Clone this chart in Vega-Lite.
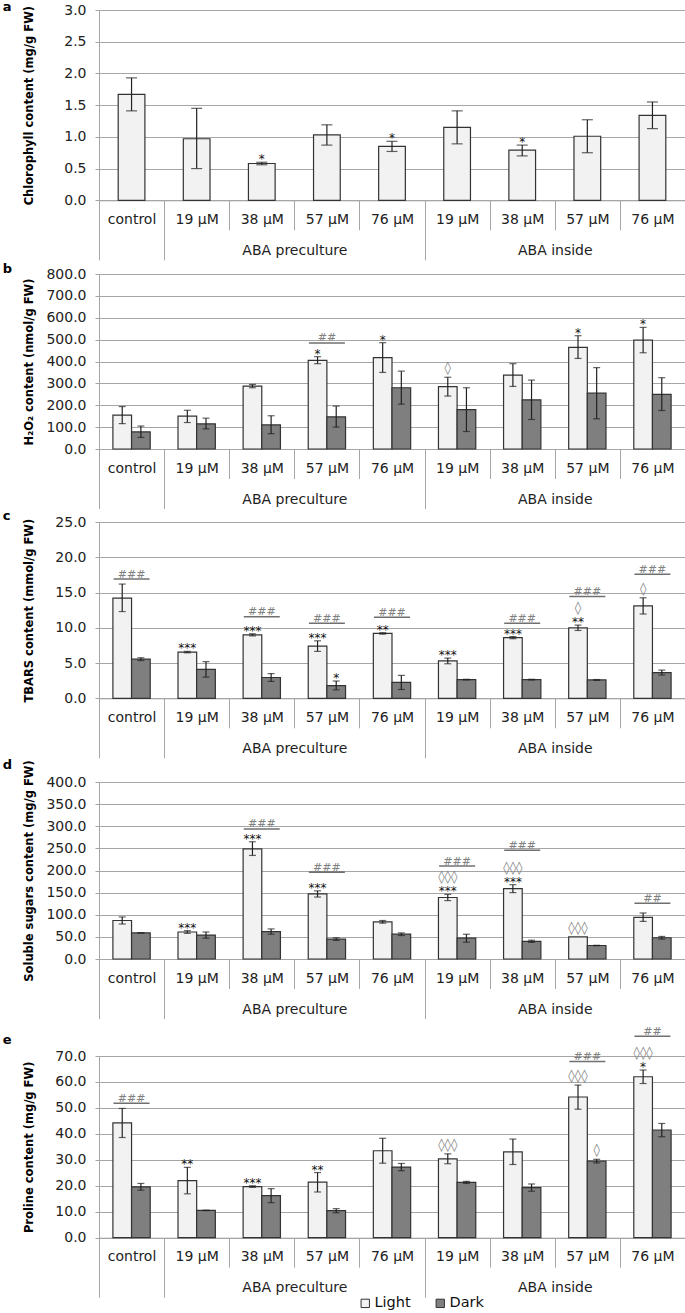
{
"$schema": "https://vega.github.io/schema/vega-lite/v6.json",
"padding": {"left": 2, "top": 1, "right": 0, "bottom": 0},
"config": {
  "view": {"stroke": null},
  "font": "DejaVu Sans",
  "axis": {"labelFont": "DejaVu Sans", "labelColor": "#222", "tickColor": "#a6a6a6", "domainColor": "#a6a6a6", "gridColor": "#a6a6a6"}
},
"datasets": {
  "rows": [
    {"p":"a","k":"letter","label":"a"},
    {"p":"b","k":"letter","label":"b"},
    {"p":"c","k":"letter","label":"c"},
    {"p":"d","k":"letter","label":"d"},
    {"p":"e","k":"letter","label":"e"},

    {"p":"a","k":"bar","cat":"c","s":"Light","v":1.67,"lo":1.41,"hi":1.93,"star":"","dia":""},
    {"p":"a","k":"bar","cat":"p19","s":"Light","v":0.97,"lo":0.50,"hi":1.45,"star":"","dia":""},
    {"p":"a","k":"bar","cat":"p38","s":"Light","v":0.58,"lo":0.56,"hi":0.60,"star":"*","dia":""},
    {"p":"a","k":"bar","cat":"p57","s":"Light","v":1.03,"lo":0.87,"hi":1.19,"star":"","dia":""},
    {"p":"a","k":"bar","cat":"p76","s":"Light","v":0.85,"lo":0.77,"hi":0.93,"star":"*","dia":""},
    {"p":"a","k":"bar","cat":"i19","s":"Light","v":1.15,"lo":0.89,"hi":1.41,"star":"","dia":""},
    {"p":"a","k":"bar","cat":"i38","s":"Light","v":0.79,"lo":0.70,"hi":0.87,"star":"*","dia":""},
    {"p":"a","k":"bar","cat":"i57","s":"Light","v":1.01,"lo":0.75,"hi":1.27,"star":"","dia":""},
    {"p":"a","k":"bar","cat":"i76","s":"Light","v":1.34,"lo":1.13,"hi":1.55,"star":"","dia":""},

    {"p":"b","k":"bar","cat":"c","s":"Light","v":155,"lo":116,"hi":194,"star":"","dia":""},
    {"p":"b","k":"bar","cat":"c","s":"Dark","v":78,"lo":53,"hi":105,"star":"","dia":""},
    {"p":"b","k":"bar","cat":"p19","s":"Light","v":150,"lo":121,"hi":177,"star":"","dia":""},
    {"p":"b","k":"bar","cat":"p19","s":"Dark","v":115,"lo":92,"hi":141,"star":"","dia":""},
    {"p":"b","k":"bar","cat":"p38","s":"Light","v":287,"lo":280,"hi":295,"star":"","dia":""},
    {"p":"b","k":"bar","cat":"p38","s":"Dark","v":110,"lo":70,"hi":152,"star":"","dia":""},
    {"p":"b","k":"bar","cat":"p57","s":"Light","v":405,"lo":390,"hi":422,"star":"*","dia":""},
    {"p":"b","k":"bar","cat":"p57","s":"Dark","v":147,"lo":100,"hi":196,"star":"","dia":""},
    {"p":"b","k":"bar","cat":"p76","s":"Light","v":418,"lo":350,"hi":486,"star":"*","dia":""},
    {"p":"b","k":"bar","cat":"p76","s":"Dark","v":280,"lo":205,"hi":356,"star":"","dia":""},
    {"p":"b","k":"bar","cat":"i19","s":"Light","v":285,"lo":242,"hi":328,"star":"","dia":"◊"},
    {"p":"b","k":"bar","cat":"i19","s":"Dark","v":180,"lo":80,"hi":280,"star":"","dia":""},
    {"p":"b","k":"bar","cat":"i38","s":"Light","v":338,"lo":286,"hi":390,"star":"","dia":""},
    {"p":"b","k":"bar","cat":"i38","s":"Dark","v":225,"lo":135,"hi":315,"star":"","dia":""},
    {"p":"b","k":"bar","cat":"i57","s":"Light","v":465,"lo":414,"hi":518,"star":"*","dia":""},
    {"p":"b","k":"bar","cat":"i57","s":"Dark","v":255,"lo":138,"hi":372,"star":"","dia":""},
    {"p":"b","k":"bar","cat":"i76","s":"Light","v":498,"lo":440,"hi":556,"star":"*","dia":""},
    {"p":"b","k":"bar","cat":"i76","s":"Dark","v":250,"lo":176,"hi":326,"star":"","dia":""},
    {"p":"b","k":"hash","cat":"p57","y":485,"label":"##"},

    {"p":"c","k":"bar","cat":"c","s":"Light","v":14.2,"lo":12.3,"hi":16.2,"star":"","dia":""},
    {"p":"c","k":"bar","cat":"c","s":"Dark","v":5.55,"lo":5.35,"hi":5.75,"star":"","dia":""},
    {"p":"c","k":"bar","cat":"p19","s":"Light","v":6.55,"lo":6.45,"hi":6.65,"star":"***","dia":""},
    {"p":"c","k":"bar","cat":"p19","s":"Dark","v":4.1,"lo":3.0,"hi":5.2,"star":"","dia":""},
    {"p":"c","k":"bar","cat":"p38","s":"Light","v":9.0,"lo":8.85,"hi":9.15,"star":"***","dia":""},
    {"p":"c","k":"bar","cat":"p38","s":"Dark","v":2.95,"lo":2.4,"hi":3.5,"star":"","dia":""},
    {"p":"c","k":"bar","cat":"p57","s":"Light","v":7.4,"lo":6.65,"hi":8.15,"star":"***","dia":""},
    {"p":"c","k":"bar","cat":"p57","s":"Dark","v":1.8,"lo":1.2,"hi":2.45,"star":"*","dia":""},
    {"p":"c","k":"bar","cat":"p76","s":"Light","v":9.2,"lo":9.1,"hi":9.3,"star":"**","dia":""},
    {"p":"c","k":"bar","cat":"p76","s":"Dark","v":2.25,"lo":1.25,"hi":3.25,"star":"","dia":""},
    {"p":"c","k":"bar","cat":"i19","s":"Light","v":5.3,"lo":4.9,"hi":5.7,"star":"***","dia":""},
    {"p":"c","k":"bar","cat":"i19","s":"Dark","v":2.65,"lo":2.6,"hi":2.7,"star":"","dia":""},
    {"p":"c","k":"bar","cat":"i38","s":"Light","v":8.6,"lo":8.45,"hi":8.75,"star":"***","dia":""},
    {"p":"c","k":"bar","cat":"i38","s":"Dark","v":2.65,"lo":2.6,"hi":2.7,"star":"","dia":""},
    {"p":"c","k":"bar","cat":"i57","s":"Light","v":10.0,"lo":9.62,"hi":10.38,"star":"**","dia":"◊"},
    {"p":"c","k":"bar","cat":"i57","s":"Dark","v":2.6,"lo":2.54,"hi":2.66,"star":"","dia":""},
    {"p":"c","k":"bar","cat":"i76","s":"Light","v":13.1,"lo":11.95,"hi":14.25,"star":"","dia":"◊"},
    {"p":"c","k":"bar","cat":"i76","s":"Dark","v":3.65,"lo":3.3,"hi":4.0,"star":"","dia":""},
    {"p":"c","k":"hash","cat":"c","y":16.9,"label":"###"},
    {"p":"c","k":"hash","cat":"p38","y":11.55,"label":"###"},
    {"p":"c","k":"hash","cat":"p57","y":10.65,"label":"###"},
    {"p":"c","k":"hash","cat":"p76","y":11.5,"label":"###"},
    {"p":"c","k":"hash","cat":"i38","y":10.65,"label":"###"},
    {"p":"c","k":"hash","cat":"i57","y":14.45,"label":"###"},
    {"p":"c","k":"hash","cat":"i76","y":17.6,"label":"###"},

    {"p":"d","k":"bar","cat":"c","s":"Light","v":87,"lo":79,"hi":95,"star":"","dia":""},
    {"p":"d","k":"bar","cat":"c","s":"Dark","v":59,"lo":58.5,"hi":59.5,"star":"","dia":""},
    {"p":"d","k":"bar","cat":"p19","s":"Light","v":61,"lo":58,"hi":64,"star":"***","dia":""},
    {"p":"d","k":"bar","cat":"p19","s":"Dark","v":54,"lo":47,"hi":61,"star":"","dia":""},
    {"p":"d","k":"bar","cat":"p38","s":"Light","v":249,"lo":234,"hi":265,"star":"***","dia":""},
    {"p":"d","k":"bar","cat":"p38","s":"Dark","v":62,"lo":56,"hi":68,"star":"","dia":""},
    {"p":"d","k":"bar","cat":"p57","s":"Light","v":147,"lo":140,"hi":154,"star":"***","dia":""},
    {"p":"d","k":"bar","cat":"p57","s":"Dark","v":45,"lo":42,"hi":48,"star":"","dia":""},
    {"p":"d","k":"bar","cat":"p76","s":"Light","v":84,"lo":81,"hi":87,"star":"","dia":""},
    {"p":"d","k":"bar","cat":"p76","s":"Dark","v":56,"lo":53,"hi":59,"star":"","dia":""},
    {"p":"d","k":"bar","cat":"i19","s":"Light","v":139,"lo":132,"hi":146,"star":"***","dia":"◊◊◊"},
    {"p":"d","k":"bar","cat":"i19","s":"Dark","v":47,"lo":38,"hi":56,"star":"","dia":""},
    {"p":"d","k":"bar","cat":"i38","s":"Light","v":159,"lo":150,"hi":168,"star":"***","dia":"◊◊◊"},
    {"p":"d","k":"bar","cat":"i38","s":"Dark","v":40,"lo":37.5,"hi":42.5,"star":"","dia":""},
    {"p":"d","k":"bar","cat":"i57","s":"Light","v":50,"lo":50,"hi":50,"star":"","dia":"◊◊◊"},
    {"p":"d","k":"bar","cat":"i57","s":"Dark","v":30.5,"lo":30,"hi":31,"star":"","dia":""},
    {"p":"d","k":"bar","cat":"i76","s":"Light","v":94,"lo":85,"hi":104,"star":"","dia":""},
    {"p":"d","k":"bar","cat":"i76","s":"Dark","v":48,"lo":45,"hi":51,"star":"","dia":""},
    {"p":"d","k":"hash","cat":"p38","y":294,"label":"###"},
    {"p":"d","k":"hash","cat":"p57","y":196,"label":"###"},
    {"p":"d","k":"hash","cat":"i19","y":210,"label":"###"},
    {"p":"d","k":"hash","cat":"i38","y":246,"label":"###"},
    {"p":"d","k":"hash","cat":"i76","y":126,"label":"##"},

    {"p":"e","k":"bar","cat":"c","s":"Light","v":44.2,"lo":38.6,"hi":49.8,"star":"","dia":""},
    {"p":"e","k":"bar","cat":"c","s":"Dark","v":19.6,"lo":18.3,"hi":20.9,"star":"","dia":""},
    {"p":"e","k":"bar","cat":"p19","s":"Light","v":22.0,"lo":16.9,"hi":27.1,"star":"**","dia":""},
    {"p":"e","k":"bar","cat":"p19","s":"Dark","v":10.5,"lo":10.4,"hi":10.6,"star":"","dia":""},
    {"p":"e","k":"bar","cat":"p38","s":"Light","v":19.7,"lo":19.4,"hi":20.0,"star":"***","dia":""},
    {"p":"e","k":"bar","cat":"p38","s":"Dark","v":16.2,"lo":13.5,"hi":18.9,"star":"","dia":""},
    {"p":"e","k":"bar","cat":"p57","s":"Light","v":21.4,"lo":17.6,"hi":25.1,"star":"**","dia":""},
    {"p":"e","k":"bar","cat":"p57","s":"Dark","v":10.4,"lo":9.6,"hi":11.2,"star":"","dia":""},
    {"p":"e","k":"bar","cat":"p76","s":"Light","v":33.5,"lo":28.7,"hi":38.3,"star":"","dia":""},
    {"p":"e","k":"bar","cat":"p76","s":"Dark","v":27.2,"lo":25.8,"hi":28.6,"star":"","dia":""},
    {"p":"e","k":"bar","cat":"i19","s":"Light","v":30.4,"lo":28.5,"hi":32.3,"star":"","dia":"◊◊◊"},
    {"p":"e","k":"bar","cat":"i19","s":"Dark","v":21.3,"lo":20.9,"hi":21.7,"star":"","dia":""},
    {"p":"e","k":"bar","cat":"i38","s":"Light","v":33.1,"lo":28.2,"hi":38.0,"star":"","dia":""},
    {"p":"e","k":"bar","cat":"i38","s":"Dark","v":19.3,"lo":17.9,"hi":20.7,"star":"","dia":""},
    {"p":"e","k":"bar","cat":"i57","s":"Light","v":54.2,"lo":49.5,"hi":58.8,"star":"","dia":"◊◊◊"},
    {"p":"e","k":"bar","cat":"i57","s":"Dark","v":29.5,"lo":28.8,"hi":30.2,"star":"","dia":"◊"},
    {"p":"e","k":"bar","cat":"i76","s":"Light","v":62.0,"lo":59.4,"hi":64.6,"star":"*","dia":"◊◊◊"},
    {"p":"e","k":"bar","cat":"i76","s":"Dark","v":41.5,"lo":38.9,"hi":44.0,"star":"","dia":""},
    {"p":"e","k":"hash","cat":"c","y":51.8,"label":"###"},
    {"p":"e","k":"hash","cat":"i57","y":67.9,"label":"###"},
    {"p":"e","k":"hash","cat":"i76","y":77.6,"label":"##"}
  ]
},
"bounds": "flush",
"spacing": 0,
"resolve": {"scale": {"xOffset": "independent", "color": "independent"}, "legend": {"color": "independent"}},
"vconcat": [
{
 "width": 586, "height": 190.3,
 "data": {"name": "rows"},
 "transform": [{"filter": "datum.p == 'a'"}],
 "resolve": {"axis": {"x": "independent", "y": "independent"}},
 "layer": [
  {"transform": [{"filter": "datum.k == 'bar'"}],
   "mark": {"type": "bar", "stroke": "#333", "strokeWidth": 1.2},
   "encoding": {
     "x": {"field": "cat", "type": "nominal", "scale": {"domain": ["c","p19","p38","p57","p76","i19","i38","i57","i76"], "paddingInner": 0, "paddingOuter": 0},
           "axis": {"orient": "bottom", "title": null, "grid": false, "tickBand": "extent", "tickSize": 29.5, "labelAngle": 0, "labelFontSize": 14, "labelBaseline": "middle", "labelPadding": -10.3, "labelOverlap": false, "labelExpr": "!datum.value ? '' : datum.value == 'c' ? 'control' : substring(datum.value, 1) + ' µM'"}},
     "xOffset": {"field": "s", "type": "nominal", "scale": {"domain": ["Light"], "paddingInner": 0, "paddingOuter": 0.719}},
     "y": {"field": "v", "type": "quantitative", "scale": {"domain": [0, 3], "nice": false},
           "axis": {"orient": "left", "grid": true, "title": "Chlorophyll content (mg/g FW)", "values": [0,0.5,1,1.5,2,2.5,3], "format": ".1f", "labelOverlap": false, "labelFontSize": 14, "labelPadding": 9, "tickSize": 4, "titleFontSize": 11.5, "titleFontWeight": "bold", "titleColor": "#000", "titleX": -70, "titleBaseline": "middle"}},
     "color": {"field": "s", "type": "nominal", "scale": {"domain": ["Light","Dark"], "range": ["#f2f2f2","#7f7f7f"]}, "legend": null}
   }},
  {"transform": [{"filter": "datum.k == 'bar'"}],
   "mark": {"type": "rule", "color": "#222", "strokeWidth": 1.2},
   "encoding": {
     "x": {"field": "cat", "type": "nominal",
           "axis": {"orient": "bottom", "title": null, "grid": false, "domain": false, "tickBand": "extent", "tickSize": 59.5, "tickOpacity": {"condition": {"test": "!datum.value || indexof(['c','p76','i76'], datum.value) >= 0", "value": 1}, "value": 0}, "labelAngle": 0, "labelFontSize": 14, "labelBaseline": "middle", "labelPadding": -9.3, "labelOffset": 32.55, "labelOverlap": false, "labelExpr": "datum.value == 'p38' ? 'ABA preculture' : datum.value == 'i38' ? 'ABA inside' : ''"}},
     "xOffset": {"field": "s", "type": "nominal"},
     "y": {"field": "lo", "type": "quantitative", "axis": null},
     "y2": {"field": "hi"}
   }},
  {"transform": [{"filter": "datum.k == 'bar'"}],
   "mark": {"type": "tick", "orient": "horizontal", "size": 11, "thickness": 1.2, "color": "#222"},
   "encoding": {"x": {"field": "cat", "type": "nominal", "axis": null}, "xOffset": {"field": "s", "type": "nominal"}, "y": {"field": "lo", "type": "quantitative", "axis": null}}},
  {"transform": [{"filter": "datum.k == 'bar'"}],
   "mark": {"type": "tick", "orient": "horizontal", "size": 11, "thickness": 1.2, "color": "#222"},
   "encoding": {"x": {"field": "cat", "type": "nominal", "axis": null}, "xOffset": {"field": "s", "type": "nominal"}, "y": {"field": "hi", "type": "quantitative", "axis": null}}},
  {"transform": [{"filter": "datum.k == 'bar' && datum.star != ''"}],
   "mark": {"type": "text", "baseline": "middle", "dy": -3, "fontSize": 12, "fill": "#111"},
   "encoding": {"x": {"field": "cat", "type": "nominal", "axis": null}, "xOffset": {"field": "s", "type": "nominal"}, "y": {"field": "hi", "type": "quantitative", "axis": null}, "text": {"field": "star"}}},
  {"transform": [{"filter": "datum.k == 'letter'"}],
   "mark": {"type": "text", "align": "left", "baseline": "alphabetic", "dx": -128.85, "dy": 1.3, "fontSize": 13, "fontWeight": "bold", "fill": "#000"},
   "encoding": {"x": {"datum": "c", "type": "nominal", "axis": null}, "y": {"datum": 3, "type": "quantitative", "axis": null}, "text": {"field": "label"}}}
 ]
},
{"width": 586, "height": 72.7, "data": {"values": []}, "mark": "point"},
{
 "width": 586, "height": 175,
 "data": {"name": "rows"},
 "transform": [{"filter": "datum.p == 'b'"}],
 "resolve": {"axis": {"x": "independent", "y": "independent"}},
 "layer": [
  {"transform": [{"filter": "datum.k == 'bar'"}],
   "mark": {"type": "bar", "stroke": "#333", "strokeWidth": 1.2},
   "encoding": {
     "x": {"field": "cat", "type": "nominal", "scale": {"domain": ["c","p19","p38","p57","p76","i19","i38","i57","i76"], "paddingInner": 0, "paddingOuter": 0},
           "axis": {"orient": "bottom", "title": null, "grid": false, "tickBand": "extent", "tickSize": 29.5, "labelAngle": 0, "labelFontSize": 14, "labelBaseline": "middle", "labelPadding": -10.3, "labelOverlap": false, "labelExpr": "!datum.value ? '' : datum.value == 'c' ? 'control' : substring(datum.value, 1) + ' µM'"}},
     "xOffset": {"field": "s", "type": "nominal", "scale": {"domain": ["Light","Dark"], "paddingInner": 0, "paddingOuter": 0.745}},
     "y": {"field": "v", "type": "quantitative", "scale": {"domain": [0, 800], "nice": false},
           "axis": {"orient": "left", "grid": true, "title": "H₂O₂ content (nmol/g FW)", "values": [0,100,200,300,400,500,600,700,800], "format": ".1f", "labelOverlap": false, "labelFontSize": 14, "labelPadding": 9, "tickSize": 4, "titleFontSize": 11.5, "titleFontWeight": "bold", "titleColor": "#000", "titleX": -70, "titleBaseline": "middle"}},
     "color": {"field": "s", "type": "nominal", "scale": {"domain": ["Light","Dark"], "range": ["#f2f2f2","#7f7f7f"]}, "legend": null}
   }},
  {"transform": [{"filter": "datum.k == 'bar'"}],
   "mark": {"type": "rule", "color": "#222", "strokeWidth": 1.2},
   "encoding": {
     "x": {"field": "cat", "type": "nominal",
           "axis": {"orient": "bottom", "title": null, "grid": false, "domain": false, "tickBand": "extent", "tickSize": 59.5, "tickOpacity": {"condition": {"test": "!datum.value || indexof(['c','p76','i76'], datum.value) >= 0", "value": 1}, "value": 0}, "labelAngle": 0, "labelFontSize": 14, "labelBaseline": "middle", "labelPadding": -9.3, "labelOffset": 32.55, "labelOverlap": false, "labelExpr": "datum.value == 'p38' ? 'ABA preculture' : datum.value == 'i38' ? 'ABA inside' : ''"}},
     "xOffset": {"field": "s", "type": "nominal"},
     "y": {"field": "lo", "type": "quantitative", "axis": null},
     "y2": {"field": "hi"}
   }},
  {"transform": [{"filter": "datum.k == 'bar'"}],
   "mark": {"type": "tick", "orient": "horizontal", "size": 7, "thickness": 1.2, "color": "#222"},
   "encoding": {"x": {"field": "cat", "type": "nominal", "axis": null}, "xOffset": {"field": "s", "type": "nominal"}, "y": {"field": "lo", "type": "quantitative", "axis": null}}},
  {"transform": [{"filter": "datum.k == 'bar'"}],
   "mark": {"type": "tick", "orient": "horizontal", "size": 7, "thickness": 1.2, "color": "#222"},
   "encoding": {"x": {"field": "cat", "type": "nominal", "axis": null}, "xOffset": {"field": "s", "type": "nominal"}, "y": {"field": "hi", "type": "quantitative", "axis": null}}},
  {"transform": [{"filter": "datum.k == 'bar' && datum.star != ''"}],
   "mark": {"type": "text", "baseline": "middle", "dy": -3, "fontSize": 12, "fill": "#111"},
   "encoding": {"x": {"field": "cat", "type": "nominal", "axis": null}, "xOffset": {"field": "s", "type": "nominal"}, "y": {"field": "hi", "type": "quantitative", "axis": null}, "text": {"field": "star"}}},
  {"transform": [{"filter": "datum.k == 'bar' && datum.dia != '' && datum.star == ''"}],
   "mark": {"type": "text", "baseline": "middle", "dy": -9, "fontSize": 13, "fill": "#808080"},
   "encoding": {"x": {"field": "cat", "type": "nominal", "axis": null}, "xOffset": {"field": "s", "type": "nominal"}, "y": {"field": "hi", "type": "quantitative", "axis": null}, "text": {"field": "dia"}}},
  {"transform": [{"filter": "datum.k == 'hash'"}],
   "mark": {"type": "tick", "orient": "horizontal", "size": 36, "thickness": 1.5, "color": "#333"},
   "encoding": {"x": {"field": "cat", "type": "nominal", "axis": null}, "y": {"field": "y", "type": "quantitative", "axis": null}}},
  {"transform": [{"filter": "datum.k == 'hash'"}],
   "mark": {"type": "text", "baseline": "alphabetic", "dy": -1.5, "fontSize": 11, "fill": "#808080"},
   "encoding": {"x": {"field": "cat", "type": "nominal", "axis": null}, "y": {"field": "y", "type": "quantitative", "axis": null}, "text": {"field": "label"}}},
  {"transform": [{"filter": "datum.k == 'letter'"}],
   "mark": {"type": "text", "align": "left", "baseline": "alphabetic", "dx": -128.85, "dy": -0.7, "fontSize": 13, "fontWeight": "bold", "fill": "#000"},
   "encoding": {"x": {"datum": "c", "type": "nominal", "axis": null}, "y": {"datum": 800, "type": "quantitative", "axis": null}, "text": {"field": "label"}}}
 ]
},
{"width": 586, "height": 72.3, "data": {"values": []}, "mark": "point"},
{
 "width": 586, "height": 176.3,
 "data": {"name": "rows"},
 "transform": [{"filter": "datum.p == 'c'"}],
 "resolve": {"axis": {"x": "independent", "y": "independent"}},
 "layer": [
  {"transform": [{"filter": "datum.k == 'bar'"}],
   "mark": {"type": "bar", "stroke": "#333", "strokeWidth": 1.2},
   "encoding": {
     "x": {"field": "cat", "type": "nominal", "scale": {"domain": ["c","p19","p38","p57","p76","i19","i38","i57","i76"], "paddingInner": 0, "paddingOuter": 0},
           "axis": {"orient": "bottom", "title": null, "grid": false, "tickBand": "extent", "tickSize": 29.5, "labelAngle": 0, "labelFontSize": 14, "labelBaseline": "middle", "labelPadding": -10.3, "labelOverlap": false, "labelExpr": "!datum.value ? '' : datum.value == 'c' ? 'control' : substring(datum.value, 1) + ' µM'"}},
     "xOffset": {"field": "s", "type": "nominal", "scale": {"domain": ["Light","Dark"], "paddingInner": 0, "paddingOuter": 0.745}},
     "y": {"field": "v", "type": "quantitative", "scale": {"domain": [0, 25], "nice": false},
           "axis": {"orient": "left", "grid": true, "title": "TBARS content (mmol/g FW)", "values": [0,5,10,15,20,25], "format": ".1f", "labelOverlap": false, "labelFontSize": 14, "labelPadding": 9, "tickSize": 4, "titleFontSize": 11.5, "titleFontWeight": "bold", "titleColor": "#000", "titleX": -70, "titleBaseline": "middle"}},
     "color": {"field": "s", "type": "nominal", "scale": {"domain": ["Light","Dark"], "range": ["#f2f2f2","#7f7f7f"]}, "legend": null}
   }},
  {"transform": [{"filter": "datum.k == 'bar'"}],
   "mark": {"type": "rule", "color": "#222", "strokeWidth": 1.2},
   "encoding": {
     "x": {"field": "cat", "type": "nominal",
           "axis": {"orient": "bottom", "title": null, "grid": false, "domain": false, "tickBand": "extent", "tickSize": 59.5, "tickOpacity": {"condition": {"test": "!datum.value || indexof(['c','p76','i76'], datum.value) >= 0", "value": 1}, "value": 0}, "labelAngle": 0, "labelFontSize": 14, "labelBaseline": "middle", "labelPadding": -9.3, "labelOffset": 32.55, "labelOverlap": false, "labelExpr": "datum.value == 'p38' ? 'ABA preculture' : datum.value == 'i38' ? 'ABA inside' : ''"}},
     "xOffset": {"field": "s", "type": "nominal"},
     "y": {"field": "lo", "type": "quantitative", "axis": null},
     "y2": {"field": "hi"}
   }},
  {"transform": [{"filter": "datum.k == 'bar'"}],
   "mark": {"type": "tick", "orient": "horizontal", "size": 7, "thickness": 1.2, "color": "#222"},
   "encoding": {"x": {"field": "cat", "type": "nominal", "axis": null}, "xOffset": {"field": "s", "type": "nominal"}, "y": {"field": "lo", "type": "quantitative", "axis": null}}},
  {"transform": [{"filter": "datum.k == 'bar'"}],
   "mark": {"type": "tick", "orient": "horizontal", "size": 7, "thickness": 1.2, "color": "#222"},
   "encoding": {"x": {"field": "cat", "type": "nominal", "axis": null}, "xOffset": {"field": "s", "type": "nominal"}, "y": {"field": "hi", "type": "quantitative", "axis": null}}},
  {"transform": [{"filter": "datum.k == 'bar' && datum.star != ''"}],
   "mark": {"type": "text", "baseline": "middle", "dy": -3, "fontSize": 12, "fill": "#111"},
   "encoding": {"x": {"field": "cat", "type": "nominal", "axis": null}, "xOffset": {"field": "s", "type": "nominal"}, "y": {"field": "hi", "type": "quantitative", "axis": null}, "text": {"field": "star"}}},
  {"transform": [{"filter": "datum.k == 'bar' && datum.dia != '' && datum.star == ''"}],
   "mark": {"type": "text", "baseline": "middle", "dy": -9, "fontSize": 13, "fill": "#808080"},
   "encoding": {"x": {"field": "cat", "type": "nominal", "axis": null}, "xOffset": {"field": "s", "type": "nominal"}, "y": {"field": "hi", "type": "quantitative", "axis": null}, "text": {"field": "dia"}}},
  {"transform": [{"filter": "datum.k == 'bar' && datum.dia != '' && datum.star != ''"}],
   "mark": {"type": "text", "baseline": "middle", "dy": -17, "fontSize": 13, "fill": "#808080"},
   "encoding": {"x": {"field": "cat", "type": "nominal", "axis": null}, "xOffset": {"field": "s", "type": "nominal"}, "y": {"field": "hi", "type": "quantitative", "axis": null}, "text": {"field": "dia"}}},
  {"transform": [{"filter": "datum.k == 'hash'"}],
   "mark": {"type": "tick", "orient": "horizontal", "size": 36, "thickness": 1.5, "color": "#333"},
   "encoding": {"x": {"field": "cat", "type": "nominal", "axis": null}, "y": {"field": "y", "type": "quantitative", "axis": null}}},
  {"transform": [{"filter": "datum.k == 'hash'"}],
   "mark": {"type": "text", "baseline": "alphabetic", "dy": -1.5, "fontSize": 11, "fill": "#808080"},
   "encoding": {"x": {"field": "cat", "type": "nominal", "axis": null}, "y": {"field": "y", "type": "quantitative", "axis": null}, "text": {"field": "label"}}},
  {"transform": [{"filter": "datum.k == 'letter'"}],
   "mark": {"type": "text", "align": "left", "baseline": "alphabetic", "dx": -128.85, "dy": -1.7, "fontSize": 13, "fontWeight": "bold", "fill": "#000"},
   "encoding": {"x": {"datum": "c", "type": "nominal", "axis": null}, "y": {"datum": 25, "type": "quantitative", "axis": null}, "text": {"field": "label"}}}
 ]
},
{"width": 586, "height": 82.4, "data": {"values": []}, "mark": "point"},
{
 "width": 586, "height": 177,
 "data": {"name": "rows"},
 "transform": [{"filter": "datum.p == 'd'"}],
 "resolve": {"axis": {"x": "independent", "y": "independent"}},
 "layer": [
  {"transform": [{"filter": "datum.k == 'bar'"}],
   "mark": {"type": "bar", "stroke": "#333", "strokeWidth": 1.2},
   "encoding": {
     "x": {"field": "cat", "type": "nominal", "scale": {"domain": ["c","p19","p38","p57","p76","i19","i38","i57","i76"], "paddingInner": 0, "paddingOuter": 0},
           "axis": {"orient": "bottom", "title": null, "grid": false, "tickBand": "extent", "tickSize": 29.5, "labelAngle": 0, "labelFontSize": 14, "labelBaseline": "middle", "labelPadding": -10.3, "labelOverlap": false, "labelExpr": "!datum.value ? '' : datum.value == 'c' ? 'control' : substring(datum.value, 1) + ' µM'"}},
     "xOffset": {"field": "s", "type": "nominal", "scale": {"domain": ["Light","Dark"], "paddingInner": 0, "paddingOuter": 0.745}},
     "y": {"field": "v", "type": "quantitative", "scale": {"domain": [0, 400], "nice": false},
           "axis": {"orient": "left", "grid": true, "title": "Soluble sugars content (mg/g FW)", "values": [0,50,100,150,200,250,300,350,400], "format": ".1f", "labelOverlap": false, "labelFontSize": 14, "labelPadding": 9, "tickSize": 4, "titleFontSize": 11.5, "titleFontWeight": "bold", "titleColor": "#000", "titleX": -70, "titleBaseline": "middle"}},
     "color": {"field": "s", "type": "nominal", "scale": {"domain": ["Light","Dark"], "range": ["#f2f2f2","#7f7f7f"]}, "legend": null}
   }},
  {"transform": [{"filter": "datum.k == 'bar'"}],
   "mark": {"type": "rule", "color": "#222", "strokeWidth": 1.2},
   "encoding": {
     "x": {"field": "cat", "type": "nominal",
           "axis": {"orient": "bottom", "title": null, "grid": false, "domain": false, "tickBand": "extent", "tickSize": 59.5, "tickOpacity": {"condition": {"test": "!datum.value || indexof(['c','p76','i76'], datum.value) >= 0", "value": 1}, "value": 0}, "labelAngle": 0, "labelFontSize": 14, "labelBaseline": "middle", "labelPadding": -9.3, "labelOffset": 32.55, "labelOverlap": false, "labelExpr": "datum.value == 'p38' ? 'ABA preculture' : datum.value == 'i38' ? 'ABA inside' : ''"}},
     "xOffset": {"field": "s", "type": "nominal"},
     "y": {"field": "lo", "type": "quantitative", "axis": null},
     "y2": {"field": "hi"}
   }},
  {"transform": [{"filter": "datum.k == 'bar' && datum.hi > datum.lo"}],
   "mark": {"type": "tick", "orient": "horizontal", "size": 7, "thickness": 1.2, "color": "#222"},
   "encoding": {"x": {"field": "cat", "type": "nominal", "axis": null}, "xOffset": {"field": "s", "type": "nominal"}, "y": {"field": "lo", "type": "quantitative", "axis": null}}},
  {"transform": [{"filter": "datum.k == 'bar' && datum.hi > datum.lo"}],
   "mark": {"type": "tick", "orient": "horizontal", "size": 7, "thickness": 1.2, "color": "#222"},
   "encoding": {"x": {"field": "cat", "type": "nominal", "axis": null}, "xOffset": {"field": "s", "type": "nominal"}, "y": {"field": "hi", "type": "quantitative", "axis": null}}},
  {"transform": [{"filter": "datum.k == 'bar' && datum.star != ''"}],
   "mark": {"type": "text", "baseline": "middle", "dy": -3, "fontSize": 12, "fill": "#111"},
   "encoding": {"x": {"field": "cat", "type": "nominal", "axis": null}, "xOffset": {"field": "s", "type": "nominal"}, "y": {"field": "hi", "type": "quantitative", "axis": null}, "text": {"field": "star"}}},
  {"transform": [{"filter": "datum.k == 'bar' && datum.dia != '' && datum.star == ''"}],
   "mark": {"type": "text", "baseline": "middle", "dy": -9, "fontSize": 13, "fill": "#808080"},
   "encoding": {"x": {"field": "cat", "type": "nominal", "axis": null}, "xOffset": {"field": "s", "type": "nominal"}, "y": {"field": "hi", "type": "quantitative", "axis": null}, "text": {"field": "dia"}}},
  {"transform": [{"filter": "datum.k == 'bar' && datum.dia != '' && datum.star != ''"}],
   "mark": {"type": "text", "baseline": "middle", "dy": -17, "fontSize": 13, "fill": "#808080"},
   "encoding": {"x": {"field": "cat", "type": "nominal", "axis": null}, "xOffset": {"field": "s", "type": "nominal"}, "y": {"field": "hi", "type": "quantitative", "axis": null}, "text": {"field": "dia"}}},
  {"transform": [{"filter": "datum.k == 'hash'"}],
   "mark": {"type": "tick", "orient": "horizontal", "size": 36, "thickness": 1.5, "color": "#333"},
   "encoding": {"x": {"field": "cat", "type": "nominal", "axis": null}, "y": {"field": "y", "type": "quantitative", "axis": null}}},
  {"transform": [{"filter": "datum.k == 'hash'"}],
   "mark": {"type": "text", "baseline": "alphabetic", "dy": -1.5, "fontSize": 11, "fill": "#808080"},
   "encoding": {"x": {"field": "cat", "type": "nominal", "axis": null}, "y": {"field": "y", "type": "quantitative", "axis": null}, "text": {"field": "label"}}},
  {"transform": [{"filter": "datum.k == 'letter'"}],
   "mark": {"type": "text", "align": "left", "baseline": "alphabetic", "dx": -128.85, "dy": -13, "fontSize": 13, "fontWeight": "bold", "fill": "#000"},
   "encoding": {"x": {"datum": "c", "type": "nominal", "axis": null}, "y": {"datum": 400, "type": "quantitative", "axis": null}, "text": {"field": "label"}}}
 ]
},
{"width": 586, "height": 96.3, "data": {"values": []}, "mark": "point"},
{
 "width": 586, "height": 181.7,
 "data": {"name": "rows"},
 "transform": [{"filter": "datum.p == 'e'"}],
 "resolve": {"axis": {"x": "independent", "y": "independent"}},
 "layer": [
  {"transform": [{"filter": "datum.k == 'bar'"}],
   "mark": {"type": "bar", "stroke": "#333", "strokeWidth": 1.2},
   "encoding": {
     "x": {"field": "cat", "type": "nominal", "scale": {"domain": ["c","p19","p38","p57","p76","i19","i38","i57","i76"], "paddingInner": 0, "paddingOuter": 0},
           "axis": {"orient": "bottom", "title": null, "grid": false, "tickBand": "extent", "tickSize": 29.5, "labelAngle": 0, "labelFontSize": 14, "labelBaseline": "middle", "labelPadding": -10.3, "labelOverlap": false, "labelExpr": "!datum.value ? '' : datum.value == 'c' ? 'control' : substring(datum.value, 1) + ' µM'"}},
     "xOffset": {"field": "s", "type": "nominal", "scale": {"domain": ["Light","Dark"], "paddingInner": 0, "paddingOuter": 0.745}},
     "y": {"field": "v", "type": "quantitative", "scale": {"domain": [0, 70], "nice": false},
           "axis": {"orient": "left", "grid": true, "title": "Proline content (mg/g FW)", "values": [0,10,20,30,40,50,60,70], "format": ".1f", "labelOverlap": false, "labelFontSize": 14, "labelPadding": 9, "tickSize": 4, "titleFontSize": 11.5, "titleFontWeight": "bold", "titleColor": "#000", "titleX": -70, "titleBaseline": "middle"}},
     "color": {"field": "s", "type": "nominal", "scale": {"domain": ["Light","Dark"], "range": ["#f2f2f2","#7f7f7f"]},
               "legend": {"orient": "none", "legendX": 259, "legendY": 240, "direction": "horizontal", "title": null, "padding": 0, "symbolType": "square", "symbolSize": 70, "symbolStrokeColor": "#333", "symbolStrokeWidth": 1, "labelFont": "DejaVu Sans", "labelFontSize": 14.5, "labelColor": "#111", "labelOffset": 2, "columnPadding": 22}}
   }},
  {"transform": [{"filter": "datum.k == 'bar'"}],
   "mark": {"type": "rule", "color": "#222", "strokeWidth": 1.2},
   "encoding": {
     "x": {"field": "cat", "type": "nominal",
           "axis": {"orient": "bottom", "title": null, "grid": false, "domain": false, "tickBand": "extent", "tickSize": 59.5, "tickOpacity": {"condition": {"test": "!datum.value || indexof(['c','p76','i76'], datum.value) >= 0", "value": 1}, "value": 0}, "labelAngle": 0, "labelFontSize": 14, "labelBaseline": "middle", "labelPadding": -9.3, "labelOffset": 32.55, "labelOverlap": false, "labelExpr": "datum.value == 'p38' ? 'ABA preculture' : datum.value == 'i38' ? 'ABA inside' : ''"}},
     "xOffset": {"field": "s", "type": "nominal"},
     "y": {"field": "lo", "type": "quantitative", "axis": null},
     "y2": {"field": "hi"}
   }},
  {"transform": [{"filter": "datum.k == 'bar'"}],
   "mark": {"type": "tick", "orient": "horizontal", "size": 7, "thickness": 1.2, "color": "#222"},
   "encoding": {"x": {"field": "cat", "type": "nominal", "axis": null}, "xOffset": {"field": "s", "type": "nominal"}, "y": {"field": "lo", "type": "quantitative", "axis": null}}},
  {"transform": [{"filter": "datum.k == 'bar'"}],
   "mark": {"type": "tick", "orient": "horizontal", "size": 7, "thickness": 1.2, "color": "#222"},
   "encoding": {"x": {"field": "cat", "type": "nominal", "axis": null}, "xOffset": {"field": "s", "type": "nominal"}, "y": {"field": "hi", "type": "quantitative", "axis": null}}},
  {"transform": [{"filter": "datum.k == 'bar' && datum.star != ''"}],
   "mark": {"type": "text", "baseline": "middle", "dy": -3, "fontSize": 12, "fill": "#111"},
   "encoding": {"x": {"field": "cat", "type": "nominal", "axis": null}, "xOffset": {"field": "s", "type": "nominal"}, "y": {"field": "hi", "type": "quantitative", "axis": null}, "text": {"field": "star"}}},
  {"transform": [{"filter": "datum.k == 'bar' && datum.dia != '' && datum.star == ''"}],
   "mark": {"type": "text", "baseline": "middle", "dy": -9, "fontSize": 13, "fill": "#808080"},
   "encoding": {"x": {"field": "cat", "type": "nominal", "axis": null}, "xOffset": {"field": "s", "type": "nominal"}, "y": {"field": "hi", "type": "quantitative", "axis": null}, "text": {"field": "dia"}}},
  {"transform": [{"filter": "datum.k == 'bar' && datum.dia != '' && datum.star != ''"}],
   "mark": {"type": "text", "baseline": "middle", "dy": -17, "fontSize": 13, "fill": "#808080"},
   "encoding": {"x": {"field": "cat", "type": "nominal", "axis": null}, "xOffset": {"field": "s", "type": "nominal"}, "y": {"field": "hi", "type": "quantitative", "axis": null}, "text": {"field": "dia"}}},
  {"transform": [{"filter": "datum.k == 'hash'"}],
   "mark": {"type": "tick", "orient": "horizontal", "size": 36, "thickness": 1.5, "color": "#333"},
   "encoding": {"x": {"field": "cat", "type": "nominal", "axis": null}, "y": {"field": "y", "type": "quantitative", "axis": null}}},
  {"transform": [{"filter": "datum.k == 'hash'"}],
   "mark": {"type": "text", "baseline": "alphabetic", "dy": -1.5, "fontSize": 11, "fill": "#808080"},
   "encoding": {"x": {"field": "cat", "type": "nominal", "axis": null}, "y": {"field": "y", "type": "quantitative", "axis": null}, "text": {"field": "label"}}},
  {"transform": [{"filter": "datum.k == 'letter'"}],
   "mark": {"type": "text", "align": "left", "baseline": "alphabetic", "dx": -128.85, "dy": -11.7, "fontSize": 13, "fontWeight": "bold", "fill": "#000"},
   "encoding": {"x": {"datum": "c", "type": "nominal", "axis": null}, "y": {"datum": 70, "type": "quantitative", "axis": null}, "text": {"field": "label"}}}
 ]
}
]
}
